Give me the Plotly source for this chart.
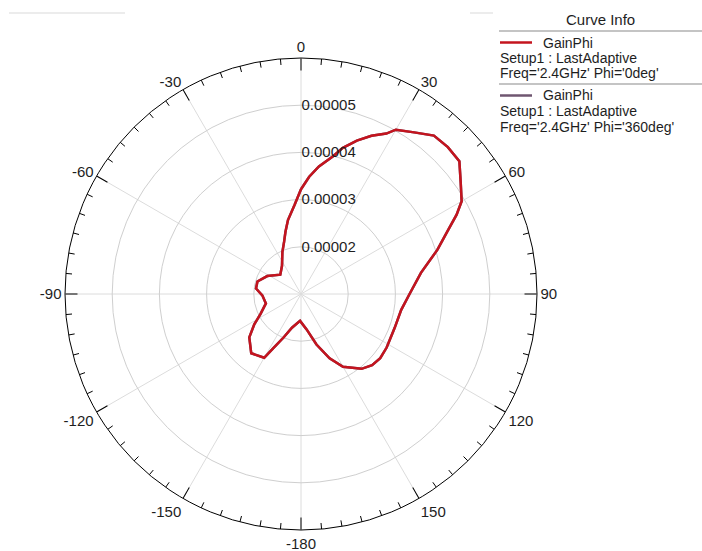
import plotly.graph_objects as go

# ---- data ----
phi_deg = [0, 4, 8, 13, 16, 20, 24, 28, 30, 35, 40, 45, 50, 55, 60, 63, 67, 72, 80, 90,
           99, 110, 122, 129, 135, 141, 150, 156, 163, 171, 182, 195, 202, 207, 210, 220,
           230, 237, 244, 255, 268, 277, 286, 298, 313, 326, 336, 342, 346, 350, 356, 360]
gain_phi = [3.22e-5, 3.49e-5, 3.73e-5, 3.99e-5, 4.22e-5, 4.46e-5, 4.67e-5, 4.85e-5, 5.02e-5,
            5.18e-5, 5.38e-5, 5.40e-5, 5.38e-5, 5.13e-5, 4.93e-5, 4.70e-5, 4.36e-5, 4.04e-5,
            3.58e-5, 3.30e-5, 3.15e-5, 3.11e-5, 3.14e-5, 3.16e-5, 3.13e-5, 3.04e-5, 2.78e-5,
            2.49e-5, 2.12e-5, 1.76e-5, 1.57e-5, 1.74e-5, 2.00e-5, 2.28e-5, 2.56e-5, 2.64e-5,
            2.43e-5, 2.18e-5, 1.95e-5, 1.77e-5, 1.82e-5, 1.96e-5, 1.96e-5, 1.81e-5, 1.60e-5,
            1.72e-5, 1.97e-5, 2.16e-5, 2.36e-5, 2.59e-5, 2.90e-5, 3.22e-5]

radial_range = [1e-5, 6e-5]
radial_tickvals = [2e-5, 3e-5, 4e-5, 5e-5]
radial_ticktext = ["0.00002", "0.00003", "0.00004", "0.00005"]
angle_tickvals = list(range(0, 360, 30))
angle_ticktext = ["0", "30", "60", "90", "120", "150", "-180", "-150", "-120", "-90", "-60", "-30"]

legend_title = "Curve Info"
legend_entries = [
    ("GainPhi", "Setup1 : LastAdaptive", "Freq='2.4GHz' Phi='0deg'", "#c4141e"),
    ("GainPhi", "Setup1 : LastAdaptive", "Freq='2.4GHz' Phi='360deg'", "#6f5670"),
]

FONT = "Liberation Sans, Arial, sans-serif"
TXT = "#1e1e1e"
RED = legend_entries[0][3]
PURPLE = legend_entries[1][3]

fig = go.Figure()

# minor ticks every 5 degrees on the outer circle
minor_t, minor_r = [], []
span = radial_range[1] - radial_range[0]
for a in range(0, 360, 5):
    if a % 30:
        minor_t += [a, a, None]
        minor_r += [radial_range[1], radial_range[1] - span * 0.026, None]
fig.add_trace(go.Scatterpolar(theta=minor_t, r=minor_r, mode="lines",
                              line=dict(color="black", width=1), hoverinfo="skip",
                              showlegend=False))

fig.add_trace(go.Scatterpolar(theta=phi_deg, r=gain_phi, mode="lines",
                              line=dict(color=PURPLE, width=2.5), name="Phi='360deg'",
                              showlegend=False))
fig.add_trace(go.Scatterpolar(theta=phi_deg, r=gain_phi, mode="lines",
                              line=dict(color=RED, width=2.5), name="Phi='0deg'",
                              showlegend=False))

R = 236
CX, CY = 301, 294
W, H = 702, 551
cx0, cx1 = (CX - R) / W, (CX + R) / W
cy0, cy1 = (H - CY - R) / H, (H - CY + R) / H

fig.update_layout(
    width=W, height=H,
    margin=dict(l=0, r=0, t=0, b=0),
    paper_bgcolor="white",
    font=dict(family=FONT, size=15, color=TXT),
    polar=dict(
        domain=dict(x=[cx0, cx1], y=[cy0, cy1]),
        bgcolor="white",
        angularaxis=dict(
            rotation=90, direction="clockwise",
            tickmode="array", tickvals=angle_tickvals, ticktext=angle_ticktext,
            ticks="inside", ticklen=12, tickcolor="black", tickwidth=1,
            showline=True, linecolor="black", linewidth=1,
            showgrid=True, gridcolor="#dcdcdc", gridwidth=1,
            tickfont=dict(family=FONT, size=15, color=TXT),
        ),
        radialaxis=dict(
            range=radial_range, angle=90, tickangle=90,
            tickmode="array", tickvals=radial_tickvals, ticktext=radial_ticktext,
            showline=False, ticks="", showgrid=True, gridcolor="#cfcfcf", gridwidth=1,
            tickfont=dict(family=FONT, size=15, color=TXT),
            side="clockwise",
        ),
    ),
    showlegend=False,
)

# manual "Curve Info" legend
def px(x):
    return x / W
def py(y):
    return 1 - y / H

LFS = 14
ann = [dict(text=legend_title, x=px(600), y=py(20), xanchor="center", yanchor="middle")]
shapes = [
    dict(type="line", xref="paper", yref="paper", x0=px(499), x1=px(702), y0=py(31), y1=py(31),
         line=dict(color="#b0b0b0", width=1.5)),
    dict(type="line", xref="paper", yref="paper", x0=px(499), x1=px(702), y0=py(84), y1=py(84),
         line=dict(color="#b0b0b0", width=1.5)),
    dict(type="line", xref="paper", yref="paper", x0=px(9), x1=px(125), y0=py(13), y1=py(13),
         line=dict(color="#ececec", width=2)),
    dict(type="line", xref="paper", yref="paper", x0=px(470), x1=px(493), y0=py(13), y1=py(13),
         line=dict(color="#ececec", width=2)),
]
y0s = [42.5, 95.5]
STEP = 15.5
for (nm, l2, l3, col), yb in zip(legend_entries, y0s):
    shapes.append(dict(type="line", xref="paper", yref="paper", x0=px(500), x1=px(532),
                       y0=py(yb), y1=py(yb), line=dict(color=col, width=2.5)))
    ann.append(dict(text=nm, x=px(542), y=py(yb), xanchor="left", yanchor="middle"))
    ann.append(dict(text=l2, x=px(499), y=py(yb + STEP), xanchor="left", yanchor="middle"))
    ann.append(dict(text=l3, x=px(499), y=py(yb + 2 * STEP), xanchor="left", yanchor="middle"))

for a in ann:
    a.update(xref="paper", yref="paper", showarrow=False, borderpad=0,
             font=dict(family=FONT, size=LFS if a["text"] != legend_title else 15, color=TXT))

fig.update_layout(annotations=ann, shapes=shapes)
fig.write_html("out.html")
